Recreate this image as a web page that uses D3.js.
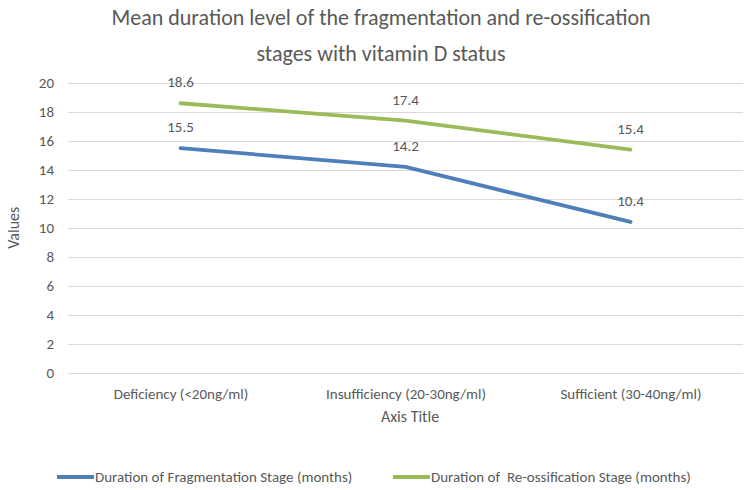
<!DOCTYPE html>
<html>
<head>
<meta charset="utf-8">
<script src="https://cdn.jsdelivr.net/npm/d3@7"></script>
<style>
  body { margin: 0; background: #fff; }
  svg { display: block; font-family: Carlito, "Open Sans", sans-serif; }
</style>
</head>
<body>
<svg id="chart" width="750" height="490"></svg>
<script>
// Chart data
const categories = ['Deficiency (<20ng/ml)', 'Insufficiency (20-30ng/ml)', 'Sufficient (30-40ng/ml)'];
const fragmentation = [15.5, 14.2, 10.4];
const reossification = [18.6, 17.4, 15.4];
const seriesNames = ['Duration of Fragmentation Stage (months)', 'Duration of  Re-ossification Stage (months)'];
const yTicks = [0, 2, 4, 6, 8, 10, 12, 14, 16, 18, 20];
const titleLines = ['Mean duration level of the fragmentation and re-ossification', 'stages with vitamin D status'];

const width = 750, height = 490;
const margin = { top: 83, right: 7, bottom: 117, left: 68 };
const textColor = '#595959';
const font = 'Carlito, "Open Sans", sans-serif';

const svg = d3.select('#chart');

// squeeze a text element down to a target width if the font renders wider
function fit(sel, w) {
    sel.each(function() {
        if (this.getComputedTextLength() > w) {
            d3.select(this).attr('textLength', w).attr('lengthAdjust', 'spacingAndGlyphs');
        }
    });
}

const x = d3.scalePoint()
    .domain(categories)
    .range([margin.left, width - margin.right])
    .padding(0.5);

const y = d3.scaleLinear()
    .domain([0, 20])
    .range([height - margin.bottom - 0.5, margin.top]);

// Title
svg.append('g').selectAll('text').data(titleLines).join('text')
    .attr('x', 381)
    .attr('y', (d, i) => 25 + i * 36)
    .attr('text-anchor', 'middle')
    .style('fill', textColor)
    .style('font-size', '22px')
    .text(d => d)
    .call(s => s.each(function(d, i) { fit(d3.select(this), i === 0 ? 575 : 265); }));

// Gridlines
svg.append('g').selectAll('line').data(yTicks).join('line')
    .attr('x1', margin.left).attr('x2', width - margin.right)
    .attr('y1', d => Math.round(y(d)) + 0.5).attr('y2', d => Math.round(y(d)) + 0.5)
    .attr('stroke', '#d9d9d9')
    .attr('stroke-width', 1);

// Y axis (labels only)
const yAxis = svg.append('g')
    .attr('transform', `translate(${margin.left - 8},0)`)
    .call(d3.axisLeft(y).tickValues(yTicks).tickSize(0).tickPadding(6));
yAxis.select('.domain').remove();
yAxis.selectAll('text')
    .style('fill', textColor)
    .style('font-size', '15px')
    .style('font-family', font);

// X axis (labels only)
const xAxis = svg.append('g')
    .attr('transform', `translate(0,${height - margin.bottom + 9})`)
    .call(d3.axisBottom(x).tickSize(0).tickPadding(6));
xAxis.select('.domain').remove();
xAxis.selectAll('text')
    .style('fill', textColor)
    .style('font-size', '15px')
    .style('font-family', font)
    .call(s => s.each(function(d, i) { fit(d3.select(this), [140, 168, 148][i]); }));

// Axis titles
svg.append('text')
    .attr('x', 410).attr('y', 422)
    .attr('text-anchor', 'middle')
    .style('fill', textColor)
    .style('font-size', '16px')
    .text('Axis Title');

svg.append('text')
    .attr('transform', `translate(19,${(y(0) + y(20)) / 2}) rotate(-90)`)
    .attr('text-anchor', 'middle')
    .style('fill', textColor)
    .style('font-size', '16px')
    .text('Values');

// Series
const series = [
    { name: seriesNames[0], values: fragmentation, color: '#4f7fb8' },
    { name: seriesNames[1], values: reossification, color: '#9bbb59' }
];

const line = d3.line()
    .x((d, i) => x(categories[i]))
    .y(d => y(d));

series.forEach(s => {
    svg.append('path')
        .datum(s.values)
        .attr('d', line)
        .attr('fill', 'none')
        .attr('stroke', s.color)
        .attr('stroke-width', 3.8)
        .attr('stroke-linecap', 'round')
        .attr('stroke-linejoin', 'round');

    svg.append('g').selectAll('text').data(s.values).join('text')
        .attr('x', (d, i) => x(categories[i]))
        .attr('y', d => y(d) - 16)
        .attr('text-anchor', 'middle')
        .style('fill', textColor)
        .style('font-size', '15px')
        .text(d => d.toFixed(1));
});

// Legend
const legendItems = [
    { x: 57, textW: 266 },
    { x: 393, textW: 268 }
];
series.forEach((s, i) => {
    const g = svg.append('g').attr('transform', `translate(${legendItems[i].x},477)`);
    g.append('line')
        .attr('x1', 0).attr('x2', 37)
        .attr('stroke', s.color)
        .attr('stroke-width', 3.8);
    g.append('text')
        .attr('x', 38).attr('y', 5)
        .style('fill', textColor)
        .style('font-size', '15px')
        .style('white-space', 'pre')
        .text(s.name)
        .call(t => fit(t, legendItems[i].textW));
});
</script>
</body>
</html>
